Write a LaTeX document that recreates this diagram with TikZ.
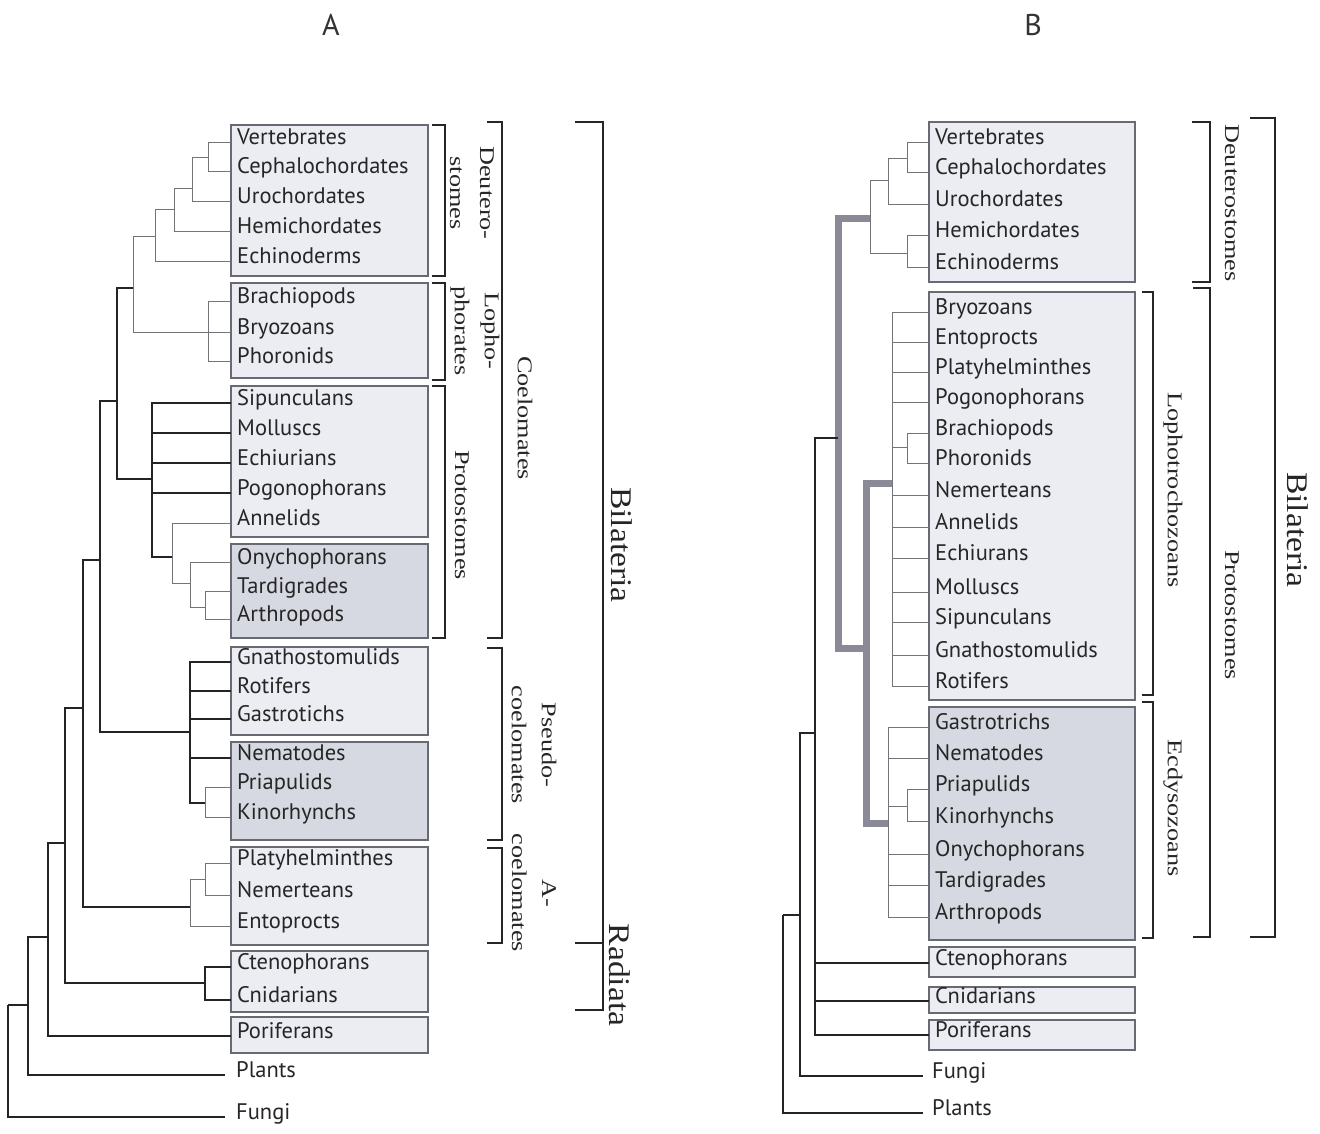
\documentclass[tikz,border=0pt]{standalone}
\usepackage{fontspec}
\setmainfont{Liberation Serif}
\newfontfamily\taxfont{PT Sans}
\definecolor{boxlight}{RGB}{235,237,243}
\definecolor{boxdark}{RGB}{214,217,225}
\definecolor{boxborder}{RGB}{105,105,115}
\definecolor{linelight}{RGB}{115,115,122}
\definecolor{linedark}{RGB}{35,35,40}
\definecolor{thickgray}{RGB}{138,138,150}
\newcommand{\stretchlbl}[1]{\scalebox{1.25}[1]{#1}}
\newcommand{\stretchbig}[1]{\scalebox{1.12}[1]{#1}}
\begin{document}
\begin{tikzpicture}[x=1pt,y=-1pt,
  tax/.style={anchor=west, inner xsep=6pt, inner ysep=0pt, text height=0.5em, text depth=0pt,
              font=\taxfont\fontsize{22.5}{22.5}\selectfont, text=black!85},
  boxl/.style={draw=boxborder, fill=boxlight, line width=1.1pt},
  boxd/.style={draw=boxborder, fill=boxdark, line width=1.1pt},
  lt/.style={draw=linelight, line width=1pt},
  dk/.style={draw=linedark, line width=1.5pt},
  thk/.style={draw=thickgray, line width=7pt, line join=miter},
  brk/.style={draw=black!85, line width=1.7pt},
  grp/.style={rotate=-90, font=\fontsize{21}{30}\selectfont, align=center, inner sep=0pt, text=black!85},
  big/.style={rotate=-90, font=\fontsize{30}{30}\selectfont, inner sep=0pt, text=black!85},
  ttl/.style={font=\taxfont\fontsize{30}{30}\selectfont, text=black!80},
]
\useasboundingbox (0,0) rectangle (1320,1133);
\fill[white] (0,0) rectangle (1320,1133);

% titles
\node[ttl] (tA) at (331,25) {A};
\node[ttl] (tB) at (1033,25) {B};

% ================= PANEL A =================
\draw[boxl] (231,125) rectangle (428,276);
\draw[boxl] (231,283) rectangle (428,378);
\draw[boxl] (231,386) rectangle (428,537);
\draw[boxd] (231,544) rectangle (428,638);
\draw[boxl] (231,647) rectangle (428,735);
\draw[boxd] (231,742) rectangle (428,840);
\draw[boxl] (231,847) rectangle (428,945);
\draw[boxl] (231,951) rectangle (428,1012);
\draw[boxl] (231,1017) rectangle (428,1053);

\node[tax] (aVer) at (231,142) {Vertebrates};
\node[tax] (aCep) at (231,171) {Cephalochordates};
\node[tax] (aUro) at (231,201) {Urochordates};
\node[tax] (aHem) at (231,231) {Hemichordates};
\node[tax] (aEch) at (231,261) {Echinoderms};
\node[tax] (aBra) at (231,301) {Brachiopods};
\node[tax] (aBry) at (231,332) {Bryozoans};
\node[tax] (aPho) at (231,361) {Phoronids};
\node[tax] (aSip) at (231,403) {Sipunculans};
\node[tax] (aMol) at (231,433) {Molluscs};
\node[tax] (aEci) at (231,463) {Echiurians};
\node[tax] (aPog) at (231,493) {Pogonophorans};
\node[tax] (aAnn) at (231,523) {Annelids};
\node[tax] (aOny) at (231,562) {Onychophorans};
\node[tax] (aTar) at (231,591) {Tardigrades};
\node[tax] (aArt) at (231,619) {Arthropods};
\node[tax] (aGna) at (231,662) {Gnathostomulids};
\node[tax] (aRot) at (231,691) {Rotifers};
\node[tax] (aGas) at (231,719) {Gastrotichs};
\node[tax] (aNem) at (231,758) {Nematodes};
\node[tax] (aPri) at (231,787) {Priapulids};
\node[tax] (aKin) at (231,817) {Kinorhynchs};
\node[tax] (aPla) at (231,863) {Platyhelminthes};
\node[tax] (aNer) at (231,895) {Nemerteans};
\node[tax] (aEnt) at (231,926) {Entoprocts};
\node[tax] (aCte) at (231,967) {Ctenophorans};
\node[tax] (aCni) at (231,1000) {Cnidarians};
\node[tax] (aPor) at (231,1036) {Poriferans};
\node[tax, inner xsep=11pt] (aPlt) at (225,1075) {Plants};
\node[tax, inner xsep=11pt] (aFun) at (225,1117) {Fungi};

\coordinate (a1) at (208,157);
\coordinate (a2) at (192,188);
\coordinate (a3) at (174,209);
\coordinate (a4) at (155,236);
\coordinate (a5) at (208,332);
\coordinate (a6) at (133,288);
\coordinate (a7) at (205,607);
\coordinate (a8) at (190,583);
\coordinate (a9) at (172,557);
\coordinate (a10) at (152,479);
\coordinate (a11) at (117,401);
\coordinate (a12) at (205,803);
\coordinate (a13) at (190,732);
\coordinate (a14) at (100,560);
\coordinate (a15) at (205,879);
\coordinate (a16) at (190,907);
\coordinate (a17) at (83,708);
\coordinate (a18) at (205,983);
\coordinate (a19) at (65,843);
\coordinate (a20) at (48,937);
\coordinate (a21) at (28,1005);
\coordinate (a0) at (8,1005);

\draw[lt] (a1) |- (aVer.west) (a1) |- (aCep.west);
\draw[lt] (a2) |- (a1) (a2) |- (aUro.west);
\draw[lt] (a3) |- (a2) (a3) |- (aHem.west);
\draw[lt] (a4) |- (a3) (a4) |- (aEch.west);
\draw[lt] (a5) |- (aBra.west) (a5) |- (aBry.west) (a5) |- (aPho.west);
\draw[lt] (a6) |- (a4) (a6) |- (a5);
\draw[dk] (a11) |- (a6) (a11) |- (a10);
\draw[dk] (a10) |- (aSip.west) (a10) |- (aMol.west) (a10) |- (aEci.west) (a10) |- (aPog.west) (a10) |- (a9);
\draw[lt] (a9) |- (aAnn.west) (a9) |- (a8);
\draw[lt] (a8) |- (aOny.west) (a8) |- (a7);
\draw[lt] (a7) |- (aTar.west) (a7) |- (aArt.west);
\draw[dk] (a14) |- (a11) (a14) |- (a13);
\draw[dk] (a13) |- (aGna.west) (a13) |- (aRot.west) (a13) |- (aGas.west) (a13) |- (aNem.west) (a13) |- (a12);
\draw[lt] (a12) |- (aPri.west) (a12) |- (aKin.west);
\draw[dk] (a17) |- (a14) (a17) |- (a16);
\draw[lt] (a16) |- (a15) (a16) |- (aEnt.west);
\draw[lt] (a15) |- (aPla.west) (a15) |- (aNer.west);
\draw[dk] (a19) |- (a17) (a19) |- (a18);
\draw[dk] (a18) |- (aCte.west) (a18) |- (aCni.west);
\draw[dk] (a20) |- (a19) (a20) |- (aPor.west);
\draw[dk] (a21) |- (a20) (a21) |- (aPlt.west);
\draw[dk] (a0) |- (a21) (a0) |- (aFun.west);

% brackets A
\draw[brk] (432,125) -- (445,125) -- (445,276) -- (432,276);
\draw[brk] (432,283) -- (445,283) -- (445,380) -- (432,380);
\draw[brk] (432,386) -- (445,386) -- (445,638) -- (432,638);
\draw[brk] (487,122) -- (502,122) -- (502,638) -- (487,638);
\draw[brk] (487,648) -- (502,648) -- (502,840) -- (487,840);
\draw[brk] (487,848) -- (502,848) -- (502,943) -- (487,943);
\draw[brk] (575,122) -- (603,122) -- (603,943) -- (575,943);
\draw[brk] (575,943) -- (603,943) -- (603,1010) -- (575,1010);

\node[grp] (aDeu) at (472,193) {\stretchlbl{Deutero-}\\\stretchlbl{stomes}};
\node[grp] (aLop) at (475,331) {\stretchlbl{Lopho-}\\\stretchlbl{phorates}};
\node[grp] (aPro) at (462,515) {\stretchlbl{Protostomes}};
\node[grp] (aCoe) at (525,418) {\stretchlbl{Coelomates}};
\node[grp] (aPse) at (534,745) {\stretchlbl{Pseudo-}\\\stretchlbl{coelomates}};
\node[grp] (aAco) at (534,893) {\stretchlbl{A-}\\\stretchlbl{coelomates}};
\node[big] (aBil) at (622,545) {\stretchbig{Bilateria}};
\node[big] (aRad) at (620,975) {\stretchbig{Radiata}};

% ================= PANEL B =================
\draw[boxl] (929,122) rectangle (1135,282);
\draw[boxl] (929,292) rectangle (1135,700);
\draw[boxd] (929,707) rectangle (1135,940);
\draw[boxl] (929,947) rectangle (1135,977);
\draw[boxl] (929,987) rectangle (1135,1013);
\draw[boxl] (929,1020) rectangle (1135,1050);

\node[tax] (bVer) at (929,142) {Vertebrates};
\node[tax] (bCep) at (929,172) {Cephalochordates};
\node[tax] (bUro) at (929,204) {Urochordates};
\node[tax] (bHem) at (929,235) {Hemichordates};
\node[tax] (bEch) at (929,267) {Echinoderms};
\node[tax] (bBry) at (929,312) {Bryozoans};
\node[tax] (bEnt) at (929,342) {Entoprocts};
\node[tax] (bPla) at (929,372) {Platyhelminthes};
\node[tax] (bPog) at (929,402) {Pogonophorans};
\node[tax] (bBra) at (929,433) {Brachiopods};
\node[tax] (bPho) at (929,463) {Phoronids};
\node[tax] (bNer) at (929,495) {Nemerteans};
\node[tax] (bAnn) at (929,527) {Annelids};
\node[tax] (bEci) at (929,558) {Echiurans};
\node[tax] (bMol) at (929,592) {Molluscs};
\node[tax] (bSip) at (929,622) {Sipunculans};
\node[tax] (bGna) at (929,655) {Gnathostomulids};
\node[tax] (bRot) at (929,686) {Rotifers};
\node[tax] (bGas) at (929,727) {Gastrotrichs};
\node[tax] (bNem) at (929,758) {Nematodes};
\node[tax] (bPri) at (929,789) {Priapulids};
\node[tax] (bKin) at (929,821) {Kinorhynchs};
\node[tax] (bOny) at (929,854) {Onychophorans};
\node[tax] (bTar) at (929,885) {Tardigrades};
\node[tax] (bArt) at (929,917) {Arthropods};
\node[tax] (bCte) at (929,963) {Ctenophorans};
\node[tax] (bCni) at (929,1001) {Cnidarians};
\node[tax] (bPor) at (929,1035) {Poriferans};
\node[tax, inner xsep=9pt] (bFun) at (923,1076) {Fungi};
\node[tax, inner xsep=9pt] (bPlt) at (923,1113) {Plants};

\coordinate (b1) at (907,158);
\coordinate (b2) at (888,180);
\coordinate (b3) at (907,253);
\coordinate (b4) at (870,218);
\coordinate (b5) at (907,447);
\coordinate (b6) at (892,483);
\coordinate (b7) at (907,806);
\coordinate (b8) at (888,823);
\coordinate (b9) at (866,648);
\coordinate (b10) at (838,438);
\coordinate (b11) at (815,733);
\coordinate (b12) at (800,915);
\coordinate (b0) at (783,915);

\draw[thk] (b10) |- (b4) (b10) |- (b9);
\draw[thk] (b9) |- (b6) (b9) |- (b8);

\draw[lt] (b1) |- (bVer.west) (b1) |- (bCep.west);
\draw[lt] (b2) |- (b1) (b2) |- (bUro.west);
\draw[lt] (b3) |- (bHem.west) (b3) |- (bEch.west);
\draw[lt] (b4) |- (b2) (b4) |- (b3);
\draw[lt] (b5) |- (bBra.west) (b5) |- (bPho.west);
\draw[lt] (b6) |- (bBry.west) (b6) |- (bEnt.west) (b6) |- (bPla.west) (b6) |- (bPog.west)
          (b6) |- (b5) (b6) |- (bNer.west) (b6) |- (bAnn.west) (b6) |- (bEci.west)
          (b6) |- (bMol.west) (b6) |- (bSip.west) (b6) |- (bGna.west) (b6) |- (bRot.west);
\draw[lt] (b7) |- (bPri.west) (b7) |- (bKin.west);
\draw[lt] (b8) |- (bGas.west) (b8) |- (bNem.west) (b8) |- (b7) (b8) |- (bOny.west)
          (b8) |- (bTar.west) (b8) |- (bArt.west);
\draw[dk] (b11) |- (b10) (b11) |- (bCte.west) (b11) |- (bCni.west) (b11) |- (bPor.west);
\draw[dk] (b12) |- (b11) (b12) |- (bFun.west);
\draw[dk] (b0) |- (b12) (b0) |- (bPlt.west);

% brackets B
\draw[brk] (1142,292) -- (1153,292) -- (1153,695) -- (1142,695);
\draw[brk] (1142,702) -- (1153,702) -- (1153,938) -- (1142,938);
\draw[brk] (1192,122) -- (1210,122) -- (1210,282) -- (1192,282);
\draw[brk] (1193,288) -- (1210,288) -- (1210,937) -- (1193,937);
\draw[brk] (1250,118) -- (1275,118) -- (1275,937) -- (1250,937);

\node[grp] (bDeu) at (1232,203) {\stretchlbl{Deuterostomes}};
\node[grp] (bLop) at (1173,490) {\stretchlbl{Lophotrochozoans}};
\node[grp] (bPro) at (1232,615) {\stretchlbl{Protostomes}};
\node[grp] (bEcd) at (1173,808) {\stretchlbl{Ecdysozoans}};
\node[big] (bBil) at (1298,530) {\stretchbig{Bilateria}};
\end{tikzpicture}
\end{document}
